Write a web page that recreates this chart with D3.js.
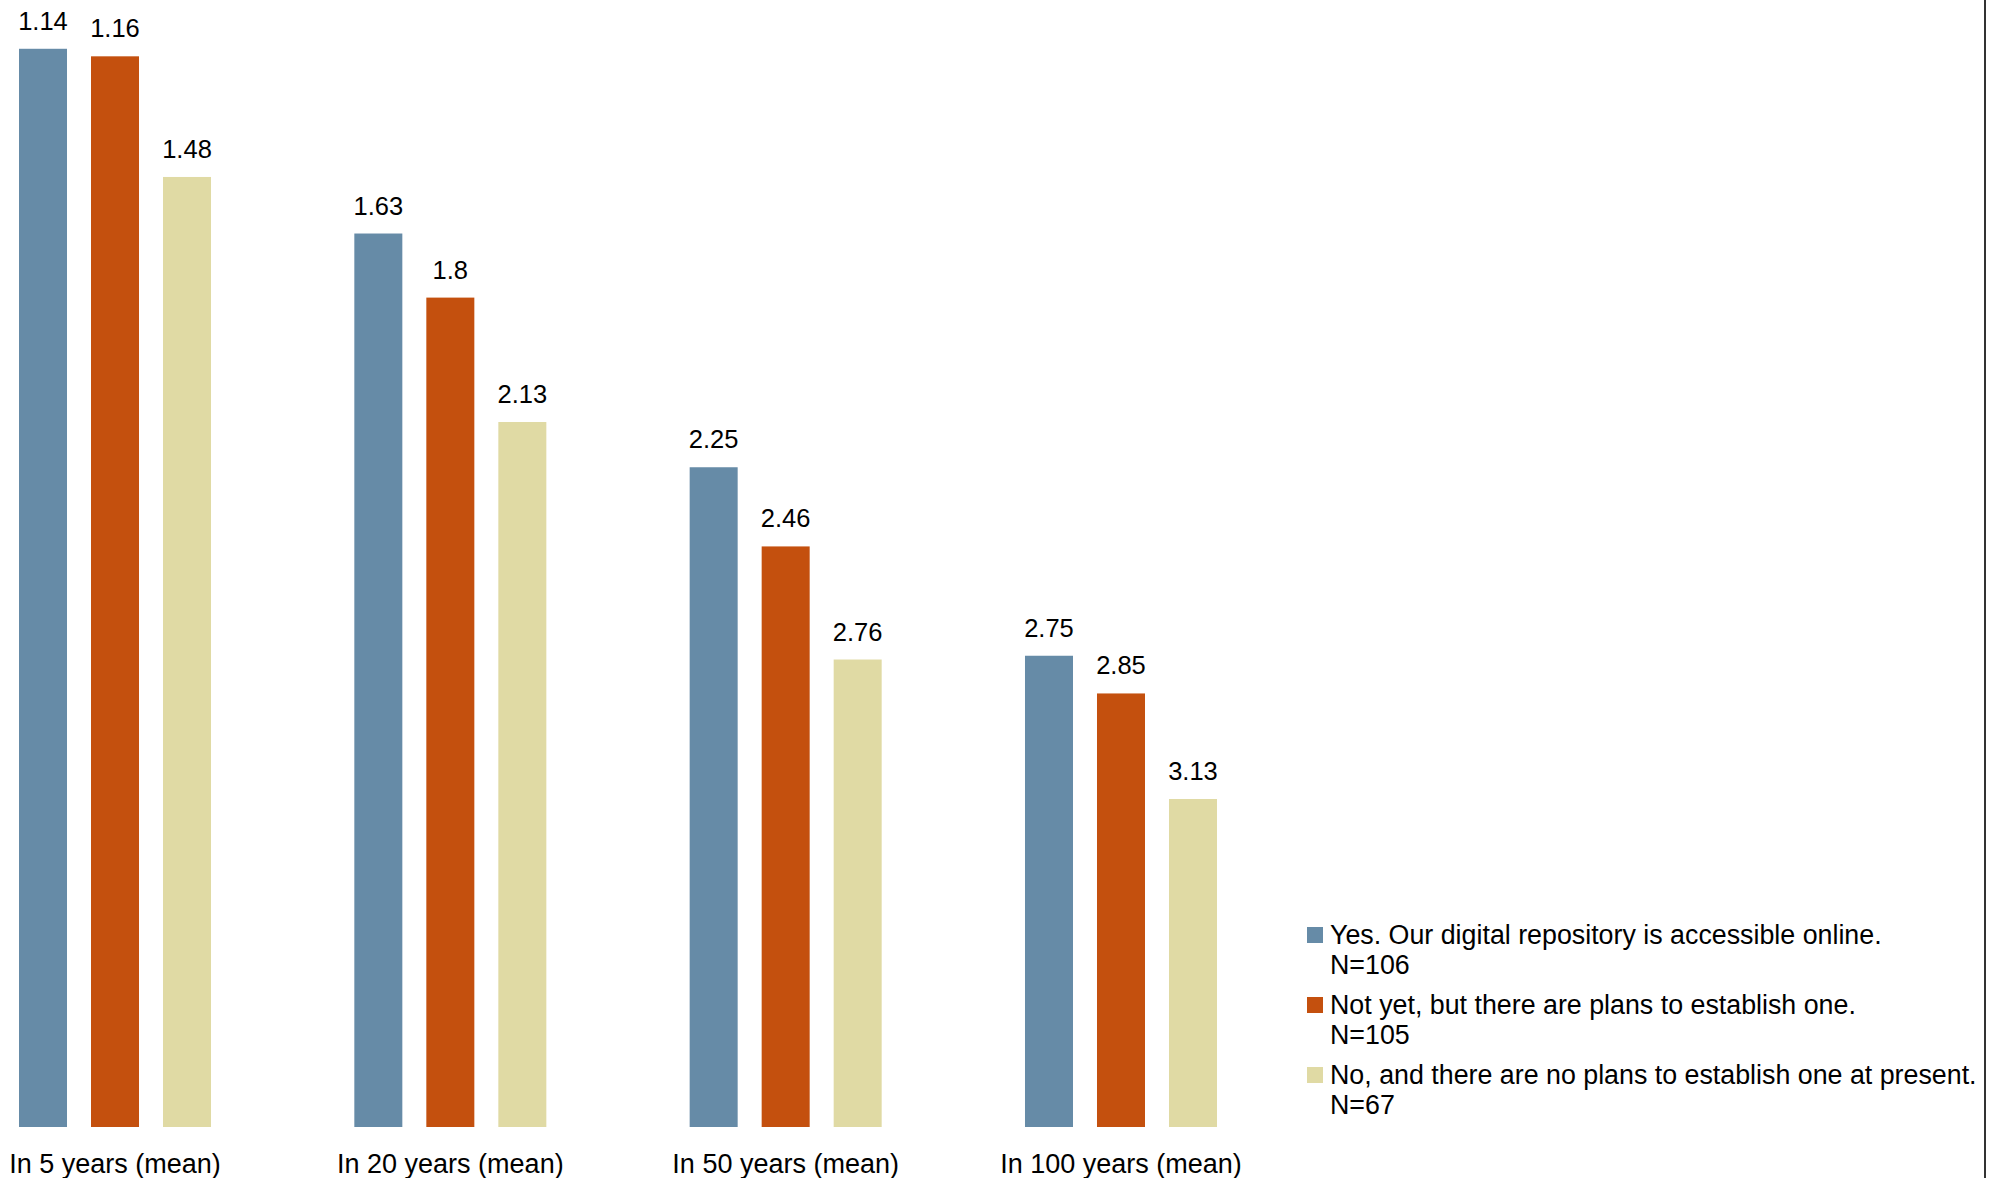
<!DOCTYPE html>
<html>
<head>
<meta charset="utf-8">
<script src="https://cdn.jsdelivr.net/npm/d3@7"></script>
<style>
  html, body { margin: 0; padding: 0; background: #fff; }
  svg { display: block; }
  text { font-family: "Liberation Sans", Arial, sans-serif; fill: #000; }
</style>
</head>
<body>
<svg id="chart" width="2000" height="1178"></svg>
<script>
const categories = ["In 5 years (mean)", "In 20 years (mean)", "In 50 years (mean)", "In 100 years (mean)"];
const seriesNames = ["Yes. Our digital repository is accessible online.", "Not yet, but there are plans to establish one.", "No, and there are no plans to establish one at present."];
const seriesN = ["N=106", "N=105", "N=67"];
const yesValues = [1.14, 1.63, 2.25, 2.75];
const notYetValues = [1.16, 1.8, 2.46, 2.85];
const noValues = [1.48, 2.13, 2.76, 3.13];
const seriesColors = ["#668ba7", "#c4500e", "#e0daa4"];
const seriesValues = [yesValues, notYetValues, noValues];

const svg = d3.select("#chart");

const x0 = d3.scaleBand().domain(categories).range([19, 1217]).paddingInner(0.4274).paddingOuter(0);
const x1 = d3.scaleBand().domain(d3.range(seriesNames.length)).range([0, x0.bandwidth()]).paddingInner(1/3).paddingOuter(0);
// reversed scale: lower mean = taller bar; bars grow from 4 upward
const y = d3.scaleLinear().domain([4, 1]).range([1127, -4]);

const data = [];
categories.forEach((c, ci) => {
  seriesValues.forEach((vals, si) => data.push({ cat: c, s: si, v: vals[ci] }));
});

const g = svg.append("g");
g.selectAll("rect.bar").data(data).join("rect")
  .attr("class", "bar")
  .attr("x", d => x0(d.cat) + x1(d.s))
  .attr("width", x1.bandwidth())
  .attr("y", d => y(d.v))
  .attr("height", d => y(4) - y(d.v))
  .attr("fill", d => seriesColors[d.s]);

g.selectAll("text.val").data(data).join("text")
  .attr("class", "val")
  .attr("x", d => x0(d.cat) + x1(d.s) + x1.bandwidth() / 2)
  .attr("y", d => y(d.v) - 19)
  .attr("text-anchor", "middle")
  .attr("font-size", 25.5)
  .text(d => d.v);

// category axis labels
const xAxis = d3.axisBottom(x0).tickSize(0).tickPadding(0);
const ax = svg.append("g").attr("transform", "translate(0,1127)").call(xAxis);
ax.select(".domain").remove();
ax.selectAll(".tick text")
  .attr("y", 46)
  .attr("dy", 0)
  .attr("font-size", 27)
  .attr("font-family", "Liberation Sans, Arial, sans-serif")
  .attr("fill", "#000");

// legend
const legend = svg.append("g").attr("transform", "translate(1307,927)");
const items = legend.selectAll("g").data(seriesNames).join("g")
  .attr("transform", (d, i) => `translate(0,${i * 70})`);
items.append("rect").attr("width", 16).attr("height", 16).attr("fill", (d, i) => seriesColors[i]);
items.append("text").attr("x", 23).attr("y", 17).attr("font-size", 26.8).text(d => d);
items.append("text").attr("x", 23).attr("y", 47).attr("font-size", 26.8).text((d, i) => seriesN[i]);

// right border line
svg.append("line").attr("x1", 1985).attr("x2", 1985).attr("y1", 0).attr("y2", 1178)
  .attr("stroke", "#333").attr("stroke-width", 2);
</script>
</body>
</html>
